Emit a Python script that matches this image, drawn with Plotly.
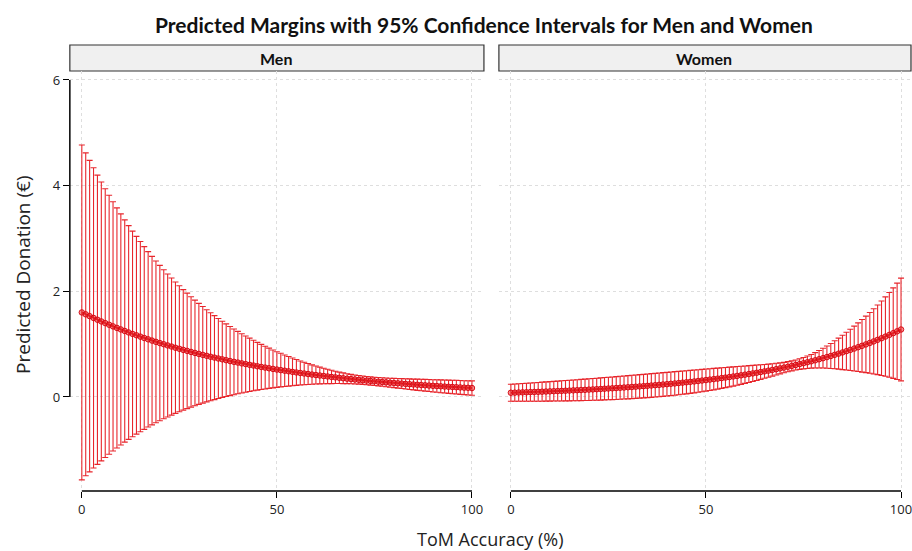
import plotly.graph_objects as go

tom = list(range(0, 101))

men_est = [1.600,1.564,1.530,1.496,1.462,1.430,1.398,1.367,1.336,1.307,1.278,1.249,1.221,1.194,1.168,1.142,1.116,1.091,1.067,1.043,
           1.020,0.998,0.975,0.954,0.932,0.912,0.891,0.872,0.852,0.833,0.815,0.797,0.779,0.761,0.745,0.728,0.712,0.696,0.680,0.665,
           0.651,0.636,0.622,0.608,0.595,0.581,0.568,0.556,0.543,0.531,0.519,0.508,0.497,0.486,0.475,0.464,0.454,0.444,0.434,0.424,
           0.415,0.406,0.397,0.388,0.379,0.371,0.362,0.354,0.346,0.339,0.331,0.324,0.317,0.310,0.303,0.296,0.289,0.283,0.277,0.270,
           0.264,0.259,0.253,0.247,0.242,0.236,0.231,0.226,0.221,0.216,0.211,0.207,0.202,0.197,0.193,0.189,0.185,0.180,0.176,0.173,0.169]
men_ci = [3.170,3.056,2.948,2.842,2.738,2.640,2.543,2.450,2.358,2.272,2.187,2.103,2.023,1.946,1.872,1.800,1.729,1.660,1.595,1.531,
          1.470,1.411,1.353,1.298,1.243,1.192,1.141,1.093,1.045,1.000,0.956,0.914,0.872,0.832,0.795,0.757,0.722,0.687,0.654,0.622,
          0.591,0.561,0.532,0.505,0.478,0.452,0.427,0.404,0.381,0.359,0.337,0.318,0.298,0.280,0.262,0.245,0.228,0.213,0.198,0.184,
          0.171,0.159,0.147,0.136,0.126,0.117,0.108,0.101,0.094,0.089,0.085,0.081,0.079,0.078,0.078,0.078,0.079,0.081,0.083,0.085,
          0.088,0.091,0.094,0.097,0.100,0.102,0.106,0.108,0.111,0.114,0.116,0.119,0.121,0.123,0.125,0.128,0.130,0.131,0.132,0.135,0.136]
women_est = [0.080,0.082,0.085,0.087,0.089,0.092,0.095,0.097,0.100,0.103,0.106,0.109,0.112,0.115,0.118,0.121,0.125,0.128,0.132,0.135,
             0.139,0.143,0.147,0.151,0.156,0.160,0.164,0.169,0.174,0.179,0.184,0.189,0.194,0.200,0.205,0.211,0.217,0.223,0.229,0.236,
             0.242,0.249,0.256,0.263,0.271,0.278,0.286,0.294,0.302,0.311,0.320,0.329,0.338,0.347,0.357,0.367,0.377,0.388,0.399,0.410,
             0.422,0.434,0.446,0.458,0.471,0.484,0.498,0.512,0.526,0.541,0.556,0.572,0.588,0.605,0.622,0.639,0.657,0.675,0.694,0.714,
             0.734,0.755,0.776,0.798,0.820,0.843,0.867,0.891,0.916,0.942,0.968,0.995,1.023,1.052,1.082,1.112,1.143,1.175,1.208,1.242,1.277]
women_ci = [0.162,0.164,0.166,0.168,0.171,0.173,0.175,0.177,0.180,0.182,0.184,0.186,0.188,0.191,0.193,0.195,0.197,0.199,0.201,0.203,
            0.205,0.206,0.208,0.210,0.211,0.213,0.215,0.216,0.217,0.218,0.220,0.221,0.221,0.222,0.223,0.223,0.224,0.224,0.224,0.224,
            0.224,0.223,0.223,0.222,0.221,0.219,0.218,0.216,0.214,0.211,0.209,0.206,0.203,0.199,0.195,0.191,0.187,0.182,0.177,0.171,
            0.165,0.159,0.152,0.146,0.139,0.131,0.124,0.117,0.111,0.104,0.099,0.096,0.095,0.096,0.100,0.107,0.117,0.130,0.146,0.165,
            0.187,0.211,0.237,0.265,0.294,0.325,0.357,0.390,0.424,0.460,0.497,0.535,0.575,0.617,0.660,0.705,0.752,0.801,0.856,0.912,0.972]

panels = ["Men", "Women"]
x_ticks = [0, 50, 100]
y_ticks = [0, 2, 4, 6]

W, H = 912, 551
px = lambda v: v / W
py = lambda v: (H - v) / H

ERR_COLOR = "#e8262c"
PT_COLOR = "rgba(212,0,12,0.9)"
GRID = "#dedede"
TICKFONT = dict(family="Open Sans, sans-serif", size=13, color="#222")

fig = go.Figure()
for i, (est, ci) in enumerate([(men_est, men_ci), (women_est, women_ci)]):
    suffix = "" if i == 0 else "2"
    fig.add_trace(go.Scatter(
        x=tom, y=est, xaxis="x" + suffix, yaxis="y" + suffix,
        mode="lines+markers",
        line=dict(color=PT_COLOR, width=2),
        marker=dict(symbol="circle", size=5.5, color="rgba(235,50,50,0.55)",
                    line=dict(color=PT_COLOR, width=1)),
        error_y=dict(type="data", array=ci, symmetric=True, color=ERR_COLOR,
                     thickness=1.1, width=3),
        showlegend=False, hoverinfo="skip"))

dom_men = [px(70), px(485)]
dom_wom = [px(500), 1.0]
ydom = [py(491), py(71)]
yrange = [-1.78, 6.17]

common_x = dict(tickvals=x_ticks, ticks="outside", ticklen=6, tickcolor="black", tickwidth=1.2,
                showline=False, zeroline=False, showgrid=True, gridcolor=GRID,
                griddash="dot", gridwidth=1, tickfont=TICKFONT, ticklabeloverflow="allow")
common_y = dict(tickvals=y_ticks, range=yrange, domain=ydom, showline=False, zeroline=False,
                showgrid=True, gridcolor=GRID, griddash="dot", gridwidth=1)

fig.update_layout(
    width=W, height=H, margin=dict(l=0, r=0, t=0, b=0),
    paper_bgcolor="white", plot_bgcolor="white",
    xaxis=dict(domain=dom_men, range=[-3.07, 103.07], anchor="y", **common_x),
    xaxis2=dict(domain=dom_wom, range=[-3.07, 102.3], anchor="y2", **common_x),
    yaxis=dict(anchor="x", ticks="outside", ticklen=6, tickcolor="black", tickwidth=1.2,
               tickfont=TICKFONT, **common_y),
    yaxis2=dict(anchor="x2", showticklabels=False, ticks="", **common_y),
)

shapes = []
for xa in ["x", "x2"]:
    shapes.append(dict(type="line", xref=xa, yref="paper", x0=x_ticks[0], x1=x_ticks[-1],
                       y0=py(491), y1=py(491), line=dict(color="black", width=1.5)))
shapes.append(dict(type="line", xref="paper", yref="y", x0=px(70), x1=px(70),
                   y0=y_ticks[0], y1=y_ticks[-1], line=dict(color="black", width=1.5)))
for (x0, x1), name in zip([(70, 485), (500, 913)], panels):
    shapes.append(dict(type="rect", xref="paper", yref="paper", x0=px(x0), x1=px(x1),
                       y0=py(71), y1=py(45), fillcolor="#f0f0f0",
                       line=dict(color="#333", width=1.2), layer="below"))
fig.update_layout(shapes=shapes)

annotations = []
for cx, name in zip([277, 706], panels):
    annotations.append(dict(text="<b>%s</b>" % name, x=px(cx), y=py(58), xref="paper", yref="paper",
                            showarrow=False, font=dict(family="Lato, sans-serif", size=16, color="#111"),
                            xanchor="center", yanchor="middle"))
annotations.append(dict(text="<b>Predicted Margins with 95% Confidence Intervals for Men and Women</b>",
                        x=px(485), y=py(24), xref="paper", yref="paper", showarrow=False,
                        font=dict(family="Lato, sans-serif", size=21, color="#111"),
                        xanchor="center", yanchor="middle"))
annotations.append(dict(text="ToM Accuracy (%)", x=px(491), y=py(539), xref="paper", yref="paper",
                        showarrow=False, font=dict(family="Open Sans, sans-serif", size=18, color="#222"),
                        xanchor="center", yanchor="middle"))
annotations.append(dict(text="Predicted Donation (€)", x=px(23), y=py(275), xref="paper", yref="paper",
                        showarrow=False, textangle=-90,
                        font=dict(family="Open Sans, sans-serif", size=19, color="#222"),
                        xanchor="center", yanchor="middle"))
fig.update_layout(annotations=annotations)

fig.write_html("out.html")
